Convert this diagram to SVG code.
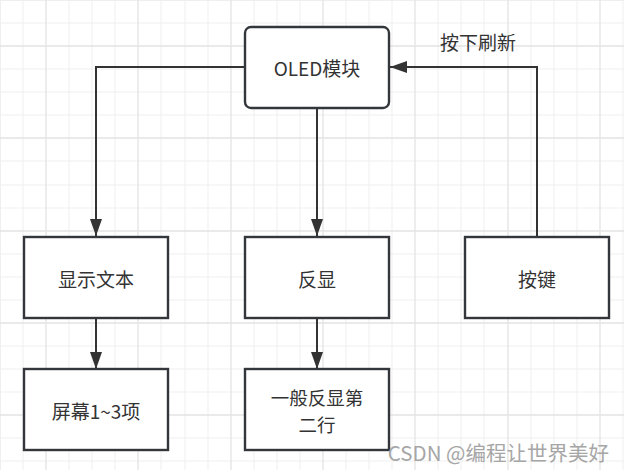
<svg xmlns="http://www.w3.org/2000/svg" width="624" height="470" viewBox="0 0 624 470">
<style>
.minor{stroke:#efefef;stroke-width:1;fill:none}
.major{stroke:#e4e4e4;stroke-width:1.3;fill:none}
.box{fill:#ffffff;stroke:#33363a;stroke-width:2.4}
.lbl{font-family:"Microsoft YaHei","Noto Sans CJK SC","Noto Sans",sans-serif;font-size:19px;fill:#333333;text-anchor:middle;dominant-baseline:central}
.edge{stroke:#333333;stroke-width:2;fill:none}
.wm{font-family:"Noto Sans CJK SC","Noto Sans",sans-serif;font-size:20.5px;fill:#a6a6a6;text-anchor:end;dominant-baseline:central}
</style>
<defs>
<marker id="arr" markerUnits="userSpaceOnUse" markerWidth="18" markerHeight="12" refX="17" refY="6" orient="auto">
<path d="M0,0 L17,6 L0,12 z" fill="#333333"/>
</marker>
</defs>
<rect width="624" height="470" fill="#ffffff"/>
<g id="grid">
<path class="minor" d="M0.5,0V470M23,0V470M69,0V470M92,0V470M115,0V470M161,0V470M185,0V470M208,0V470M254,0V470M277,0V470M300,0V470M346,0V470M369,0V470M392,0V470M438,0V470M461,0V470M484,0V470M531,0V470M554,0V470M577,0V470M623,0V470M0,0.5H624M0,23H624M0,69H624M0,92H624M0,115H624M0,161H624M0,185H624M0,208H624M0,254H624M0,277H624M0,300H624M0,346H624M0,369H624M0,392H624M0,438H624M0,461H624"/>
<path class="major" d="M46,0V470M138,0V470M231,0V470M323,0V470M415,0V470M508,0V470M600,0V470M0,46H624M0,138H624M0,231H624M0,323H624M0,415H624"/>
</g>
<g id="connectors">
<path class="edge" d="M244,67H96V236" marker-end="url(#arr)"/>
<path class="edge" d="M317,108V236" marker-end="url(#arr)"/>
<path class="edge" d="M537,236V67H390" marker-end="url(#arr)"/>
<path class="edge" d="M96,318V369" marker-end="url(#arr)"/>
<path class="edge" d="M317,318V369" marker-end="url(#arr)"/>
<text class="lbl" x="478" y="41">按下刷新</text>
</g>
<g id="oled">
<rect class="box" x="245" y="27" width="144" height="81" rx="6"/>
<text class="lbl" x="317" y="67">OLED模块</text>
</g>
<g id="text">
<rect class="box" x="24" y="237" width="144" height="81"/>
<text class="lbl" x="96" y="278">显示文本</text>
</g>
<g id="invert">
<rect class="box" x="245" y="237" width="144" height="81"/>
<text class="lbl" x="317" y="278">反显</text>
</g>
<g id="key">
<rect class="box" x="465" y="237" width="144" height="81"/>
<text class="lbl" x="537" y="278">按键</text>
</g>
<g id="screen">
<rect class="box" x="24" y="369" width="144" height="81"/>
<text class="lbl" x="96" y="410">屏幕1~3项</text>
</g>
<g id="invert2">
<rect class="box" x="245" y="369" width="144" height="81"/>
<text class="lbl" x="317" y="397" style="font-size:18.5px">一般反显第</text>
<text class="lbl" x="317" y="424" style="font-size:18.5px">二行</text>
</g>
<text class="wm" x="609" y="452">CSDN @编程让世界美好</text>
</svg>
